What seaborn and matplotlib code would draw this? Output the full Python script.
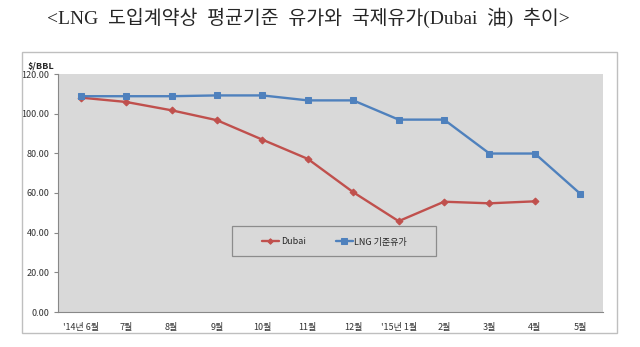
import matplotlib
matplotlib.use("Agg")
import matplotlib.pyplot as plt
import seaborn as sns
import pandas as pd
import numpy as np
from matplotlib.patches import Rectangle

months = ["'14년 6월", "7월", "8월", "9월", "10월", "11월", "12월",
          "'15년 1월", "2월", "3월", "4월", "5월"]
dubai = [108.1, 105.9, 101.7, 96.7, 86.9, 77.2, 60.4, 45.8, 55.6, 54.8, 55.8, np.nan]
lng = [108.8, 108.8, 108.8, 109.2, 109.2, 106.7, 106.7, 97.0, 97.0, 79.9, 79.9, 59.6]
yticks = [0, 20, 40, 60, 80, 100, 120]

sns.set_theme(style="white")
plt.rcParams['font.family'] = ['Noto Sans CJK KR', 'DejaVu Sans']

df = pd.DataFrame({"pos": np.arange(len(months)), "month": months,
                   "Dubai": dubai, "LNG 기준유가": lng})

fig = plt.figure(figsize=(6.4, 3.47), dpi=100)
# outer chart border
fig.patches.append(Rectangle((22/640, 1-333/347), (617-22)/640, (333-52)/347,
                             transform=fig.transFigure, fill=False,
                             edgecolor="#BFBFBF", linewidth=1.0))
ax = fig.add_axes([58/640, 1-312/347, (603-58)/640, (312-74)/347])
ax.set_facecolor("#D9D9D9")

sns.lineplot(data=df, x="pos", y="Dubai", ax=ax, color="#C0504D", linewidth=1.7,
             marker="D", markersize=3.5, markeredgecolor="#C0504D", label="Dubai")
sns.lineplot(data=df, x="pos", y="LNG 기준유가", ax=ax, color="#4F81BD", linewidth=1.7,
             marker="s", markersize=4.8, markeredgecolor="#4F81BD", label="LNG 기준유가")

ax.set_xlim(-0.5, len(months) - 0.5)
ax.set_ylim(0, 120)
ax.set_yticks(yticks)
ax.set_yticklabels([f"{v:.2f}" for v in yticks], fontsize=6.5, color="#333333")
ax.set_xticks(np.arange(len(months)))
ax.set_xticklabels(months, fontsize=6.5, color="#333333")
ax.set_xticks(np.arange(len(months) + 1) - 0.5, minor=True)
ax.tick_params(axis="x", which="major", length=0, pad=8)
ax.tick_params(axis="x", which="minor", length=3, color="#888888", width=0.8, direction="out")
ax.tick_params(axis="y", length=3, color="#888888", width=0.8, direction="out", pad=3, left=True)
ax.set_xlabel("")
ax.set_ylabel("")
for s in ["top", "right"]:
    ax.spines[s].set_visible(False)
for s in ["left", "bottom"]:
    ax.spines[s].set_color("#888888")
    ax.spines[s].set_linewidth(0.8)

# legend box (drawn as a rectangle in axes coordinates)
ax.add_patch(Rectangle(((232-58)/545, (312-256)/238), (436-232)/545, (256-226)/238,
                       transform=ax.transAxes, facecolor="#D9D9D9",
                       edgecolor="#8C8C8C", linewidth=0.9, zorder=4))
leg = ax.legend(loc="center", bbox_to_anchor=((334.5-58)/545, (312-242)/238),
                ncol=2, fontsize=6.5, frameon=False,
                handlelength=1.9, handletextpad=0.2, borderaxespad=0, borderpad=0,
                columnspacing=3.3, markerscale=0.8)
leg.set_zorder(5)

fig.text(28/640, 1-66/347, "$/BBL", fontsize=6.5, fontweight="bold", ha="left", va="center")

fig.text(0.482, 1-18/347, "<LNG  도입계약상  평균기준  유가와  국제유가(Dubai  油)  추이>",
         fontsize=14, ha="center", va="center",
         family=["Liberation Serif", "Noto Sans CJK KR"])

fig.savefig("out.png", dpi=100)
